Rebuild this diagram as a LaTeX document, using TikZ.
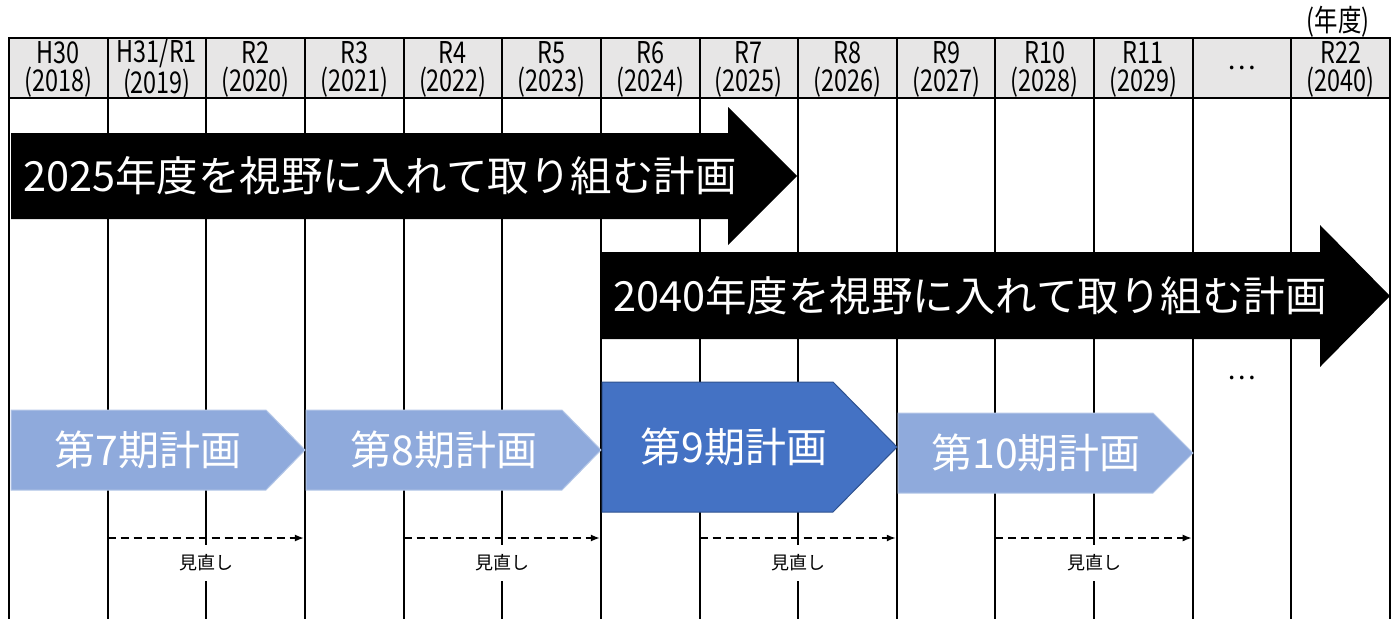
\documentclass[tikz,border=0pt]{standalone}
\usepackage{fontspec}
\setmainfont{Noto Sans CJK JP}
\newfontfamily\hdrfont[FakeStretch=0.78]{Noto Sans CJK JP}
\usetikzlibrary{arrows.meta}
\definecolor{hdrgray}{HTML}{E7E6E6}
\definecolor{lightblue}{HTML}{8FAADC}
\definecolor{lightblueedge}{HTML}{B4C7E7}
\definecolor{midblue}{HTML}{4472C4}
\definecolor{midblueedge}{HTML}{2F528F}
\begin{document}
\begin{tikzpicture}[x=1pt,y=-1pt,
  gridline/.style={line width=2pt,black},
  hdrtext/.style={align=center,inner sep=0pt,font=\hdrfont\fontsize{30}{28}\selectfont},
  bigarrow/.style={fill=black},
  bigtext/.style={text=white,inner sep=0pt,font=\fontsize{41.5}{42}\selectfont},
  planlight/.style={fill=lightblue,draw=lightblueedge,line width=1pt},
  plandark/.style={fill=midblue,draw=midblueedge,line width=1pt},
  plantext/.style={text=white,inner sep=0pt,font=\fontsize{41}{41}\selectfont},
  review/.style={dashed,dash pattern=on 8pt off 5pt,line width=1.6pt,-{Latex[length=9pt,width=7pt]}},
  reviewlabel/.style={fill=white,inner sep=0pt,minimum width=70pt,minimum height=36pt,font=\fontsize{18}{18}\selectfont},
  dotstext/.style={inner sep=0pt,font=\fontsize{27}{27}\selectfont}
]
\useasboundingbox (0,0) rectangle (1398,619);
% header background
\fill[hdrgray] (9,38) rectangle (1390,98);
% grid
\foreach \i in {0,...,14}{
  \draw[gridline] ({9+98.643*\i},38) -- ({9+98.643*\i},619);
}
\draw[gridline] (8,38) -- (1391,38);
\draw[gridline] (8,98) -- (1391,98);
% header labels
\foreach \i/\a/\b in {0/H30/(2018),1/H31\slash R1/(2019),2/R2/(2020),3/R3/(2021),4/R4/(2022),5/R5/(2023),6/R6/(2024),7/R7/(2025),8/R8/(2026),9/R9/(2027),10/R10/(2028),11/R11/(2029),13/R22/(2040)}{
  \node[hdrtext] (h\i) at ({9+98.643*(\i+0.5)},69) {\a\\\b};
}
\node[dotstext] (h12) at ({9+98.643*12.5},68) {…};
\node[hdrtext] (unit) at (1338,22) {(年度)};
% black arrows
\fill[bigarrow] (11,133) -- (728,133) -- (728,107) -- (797,176) -- (728,245) -- (728,219) -- (11,219) -- cycle;
\node[bigtext] (a1) at (380,176) {2025年度を視野に入れて取り組む計画};
\fill[bigarrow] (602,252) -- (1320,252) -- (1320,225) -- (1390,296) -- (1320,367) -- (1320,339) -- (602,339) -- cycle;
\node[bigtext] (a2) at (970,296) {2040年度を視野に入れて取り組む計画};
\node[dotstext] (dots2) at (1242,378) {…};
% plan pentagons
\draw[planlight] (11,410) -- (266,410) -- (305,450) -- (266,490) -- (11,490) -- cycle;
\node[plantext] (p7) at (148,450) {第7期計画};
\draw[planlight] (306,410) -- (562,410) -- (601,450) -- (562,490) -- (306,490) -- cycle;
\node[plantext] (p8) at (444,450) {第8期計画};
\draw[plandark] (602,382) -- (833,382) -- (897,447) -- (833,512) -- (602,512) -- cycle;
\node[plantext] (p9) at (734,447) {第9期計画};
\draw[planlight] (898,413) -- (1153,413) -- (1193,453) -- (1153,493) -- (898,493) -- cycle;
\node[plantext] (p10) at (1036,453) {第10期計画};
% review arrows
\foreach \k/\s/\e/\m in {1/1/3/2,2/4/6/5,3/7/9/8,4/10/12/11}{
  \coordinate (rs\k) at ({9+98.643*\s},538);
  \coordinate (re\k) at ({9+98.643*\e-1},538);
  \draw[review] (rs\k) -- (re\k);
  \node[reviewlabel] (rl\k) at ({9+98.643*\m},563) {見直し};
}
\end{tikzpicture}
\end{document}
